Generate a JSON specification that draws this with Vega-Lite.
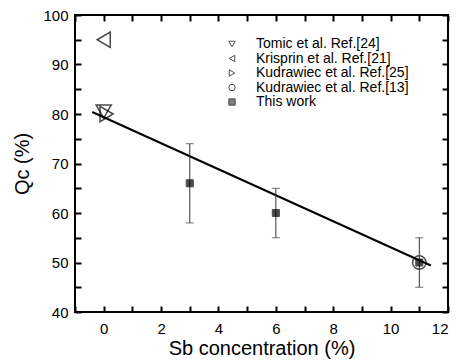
{
  "$schema": "https://vega.github.io/schema/vega-lite/v6.json",
  "width": 373,
  "height": 297,
  "autosize": {"type": "none"},
  "padding": {"left": 75, "top": 15, "right": 8, "bottom": 48},
  "config": {
    "view": {"stroke": "black", "strokeWidth": 2},
    "axis": {
      "domain": false, "grid": false,
      "labelColor": "black", "labelFont": "Liberation Sans", "labelFontSize": 15,
      "titleFont": "Liberation Sans", "titleFontSize": 20, "titleFontWeight": "normal", "titleColor": "black"
    },
    "legend": {
      "orient": "none", "legendX": 150, "legendY": 22, "padding": 0,
      "labelFont": "Liberation Sans", "labelFontSize": 14, "labelColor": "black", "labelLimit": 300,
      "symbolSize": 40, "symbolStrokeColor": "black", "symbolStrokeWidth": 1,
      "labelOffset": 17, "rowPadding": 0.5
    }
  },
  "datasets": {
    "tri": [
      {"x": 0, "y": 80.5, "series": "Tomic et al. Ref.[24]"},
      {"x": 0, "y": 95, "series": "Krisprin et al. Ref.[21]"},
      {"x": 0.1, "y": 80, "series": "Kudrawiec et al. Ref.[25]"}
    ],
    "circ": [
      {"x": 11, "y": 50, "series": "Kudrawiec et al. Ref.[13]"}
    ],
    "work": [
      {"x": 3, "y": 66, "lo": 58, "hi": 74, "series": "This work"},
      {"x": 6, "y": 60, "lo": 55, "hi": 65, "series": "This work"},
      {"x": 11, "y": 50, "lo": 45, "hi": 55, "series": "This work"}
    ],
    "fit": [
      {"x": -0.4, "y": 80.4},
      {"x": 11.4, "y": 49.4}
    ]
  },
  "layer": [
    {
      "data": {"name": "tri"},
      "mark": {"type": "point", "size": 230, "strokeWidth": 1.5},
      "encoding": {
        "x": {"field": "x", "type": "quantitative", "scale": {"domain": [-1, 12], "nice": false},
              "axis": {"orient": "bottom", "values": [-1, 0, 1, 2, 3, 4, 5, 6, 7, 8, 9, 10, 11, 12], "labelExpr": "datum.value % 2 == 0 ? datum.label : ''", "tickSize": -6, "tickColor": "black", "tickWidth": 2, "labelPadding": 15, "title": "Sb concentration (%)", "titlePadding": 2}},
        "y": {"field": "y", "type": "quantitative", "scale": {"domain": [40, 100], "nice": false},
              "axis": {"orient": "left", "values": [40, 45, 50, 55, 60, 65, 70, 75, 80, 85, 90, 95, 100], "labelExpr": "datum.value % 10 == 0 ? datum.label : ''", "tickSize": -6, "tickColor": "black", "tickWidth": 2, "labelPadding": 13, "title": "Qc (%)", "titlePadding": 10}},
        "shape": {"field": "series", "type": "nominal",
                  "scale": {"domain": ["Tomic et al. Ref.[24]", "Krisprin et al. Ref.[21]", "Kudrawiec et al. Ref.[25]", "Kudrawiec et al. Ref.[13]", "This work"],
                            "range": ["triangle-down", "triangle-left", "triangle-right", "circle", "square"]},
                  "legend": {"title": null}},
        "fill": {"field": "series", "type": "nominal",
                 "scale": {"domain": ["Tomic et al. Ref.[24]", "Krisprin et al. Ref.[21]", "Kudrawiec et al. Ref.[25]", "Kudrawiec et al. Ref.[13]", "This work"],
                           "range": ["transparent", "transparent", "transparent", "transparent", "black"]},
                 "legend": {"title": null}},
        "stroke": {"field": "series", "type": "nominal",
                   "scale": {"domain": ["Tomic et al. Ref.[24]", "Krisprin et al. Ref.[21]", "Kudrawiec et al. Ref.[25]", "Kudrawiec et al. Ref.[13]", "This work"],
                             "range": ["black", "black", "black", "black", "black"]},
                   "legend": {"title": null}}
      }
    },
    {
      "data": {"name": "circ"},
      "mark": {"type": "point", "size": 180, "strokeWidth": 1.5},
      "encoding": {
        "x": {"field": "x", "type": "quantitative",
              "axis": {"orient": "top", "values": [-1, 0, 1, 2, 3, 4, 5, 6, 7, 8, 9, 10, 11, 12], "tickSize": -6, "tickColor": "black", "tickWidth": 2, "labels": false, "title": null}},
        "y": {"field": "y", "type": "quantitative",
              "axis": {"orient": "right", "values": [40, 45, 50, 55, 60, 65, 70, 75, 80, 85, 90, 95, 100], "tickSize": -6, "tickColor": "black", "tickWidth": 2, "labels": false, "title": null}},
        "shape": {"field": "series", "type": "nominal"},
        "fill": {"field": "series", "type": "nominal"},
        "stroke": {"field": "series", "type": "nominal"}
      }
    },
    {
      "data": {"name": "fit"},
      "mark": {"type": "line", "color": "black", "strokeWidth": 2},
      "encoding": {
        "x": {"field": "x", "type": "quantitative", "axis": null},
        "y": {"field": "y", "type": "quantitative", "axis": null}
      }
    },
    {
      "data": {"name": "work"},
      "mark": {"type": "rule", "color": "#333333", "strokeWidth": 1},
      "encoding": {
        "x": {"field": "x", "type": "quantitative", "axis": null},
        "y": {"field": "lo", "type": "quantitative", "axis": null},
        "y2": {"field": "hi"}
      }
    },
    {
      "data": {"name": "work"},
      "mark": {"type": "tick", "orient": "horizontal", "color": "#333333", "thickness": 1, "size": 8},
      "encoding": {
        "x": {"field": "x", "type": "quantitative", "axis": null},
        "y": {"field": "lo", "type": "quantitative", "axis": null}
      }
    },
    {
      "data": {"name": "work"},
      "mark": {"type": "tick", "orient": "horizontal", "color": "#333333", "thickness": 1, "size": 8},
      "encoding": {
        "x": {"field": "x", "type": "quantitative", "axis": null},
        "y": {"field": "hi", "type": "quantitative", "axis": null}
      }
    },
    {
      "data": {"name": "work"},
      "mark": {"type": "point", "size": 50, "strokeWidth": 1},
      "encoding": {
        "x": {"field": "x", "type": "quantitative", "axis": null},
        "y": {"field": "y", "type": "quantitative", "axis": null},
        "shape": {"field": "series", "type": "nominal"},
        "fill": {"field": "series", "type": "nominal"},
        "stroke": {"field": "series", "type": "nominal"}
      }
    }
  ],
  "resolve": {"axis": {"x": "independent", "y": "independent"}}
}
